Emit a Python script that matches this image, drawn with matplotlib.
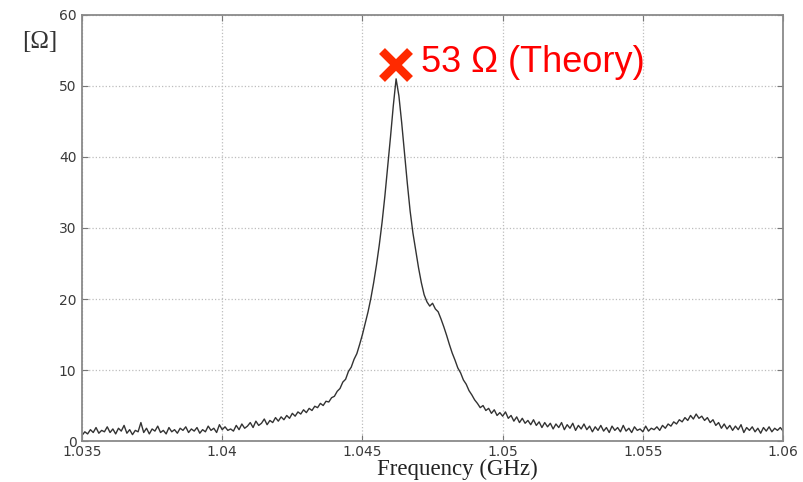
import numpy as np
import matplotlib
matplotlib.use("Agg")
import matplotlib.pyplot as plt

# sweep 1.0350 ... 1.0600 GHz, 0.0001 GHz step; impedance
F_START, F_STEP = 1.035, 0.0001
z_ohm = [
    0.8, 1.3, 1.0, 1.6, 1.2, 1.9, 1.1, 1.5, 1.3, 2.0,
    1.2, 1.7, 1.0, 1.8, 1.4, 2.2, 1.1, 1.6, 0.9, 1.5,
    1.3, 2.6, 1.2, 1.8, 1.0, 1.7, 1.4, 2.1, 1.2, 1.5,
    1.0, 1.9, 1.3, 1.6, 1.1, 1.8, 1.5, 2.0, 1.2, 1.7,
    1.4, 1.9, 1.1, 1.6, 1.3, 2.1, 1.5, 1.8, 1.2, 2.3,
    1.6, 2.0, 1.5, 1.7, 1.4, 2.2, 1.6, 2.4, 1.8, 2.1,
    2.6, 1.9, 2.8, 2.2, 2.5, 3.1, 2.3, 2.9, 2.6, 3.3,
    2.8, 3.4, 3.0, 3.6, 3.2, 3.9, 3.5, 4.1, 3.8, 4.4,
    4.0, 4.6, 4.3, 4.9, 4.7, 5.3, 5.0, 5.6, 5.5, 6.1,
    6.3, 7.0, 7.4, 8.3, 8.7, 9.8, 10.4, 11.5, 12.3, 13.6,
    15.0, 16.6, 18.2, 20.1, 22.3, 24.8, 27.6, 30.8, 34.5, 38.6,
    42.8, 47.2, 51.0, 48.6, 44.8, 40.5, 36.3, 32.4, 29.3, 26.8,
    24.4, 22.3, 20.6, 19.6, 19.0, 19.4, 18.6, 18.2, 17.2, 16.1,
    14.9, 13.6, 12.4, 11.4, 10.3, 9.6, 8.6, 8.0, 7.1, 6.5,
    5.8, 5.3, 4.7, 5.0, 4.3, 4.6, 3.9, 4.4, 3.6, 4.0,
    3.5, 4.1, 3.2, 3.6, 2.8, 3.4, 2.6, 3.2, 2.5, 2.9,
    2.3, 3.0, 2.2, 2.7, 1.9, 2.6, 2.0, 2.5, 1.7, 2.4,
    1.9, 2.6, 1.6, 2.3, 1.8, 2.5, 1.5, 2.2, 1.7, 2.4,
    1.6, 2.1, 1.3, 2.0, 1.5, 2.2, 1.4, 1.9, 1.2, 2.1,
    1.5, 1.9, 1.3, 2.2, 1.4, 1.8, 1.2, 2.0, 1.5, 1.7,
    1.3, 2.1, 1.4, 1.8, 1.6, 2.0, 1.5, 2.2, 1.8, 2.4,
    2.1, 2.7, 2.4, 3.0, 2.7, 3.3, 2.9, 3.6, 3.1, 3.8,
    3.2, 3.5, 2.9, 3.3, 2.6, 3.0, 2.2, 2.6, 1.8, 2.4,
    1.7, 2.2, 1.5, 2.1, 1.6, 2.3, 1.2, 1.9, 1.5, 2.0,
    1.3, 1.8, 1.1, 1.9, 1.4, 2.0, 1.3, 1.8, 1.5, 1.9,
    1.4,
]
freq = F_START + F_STEP * np.arange(len(z_ohm))

theory_f, theory_z = 1.0462, 53
theory_label = "53 \u03a9 (Theory)"
xticks = [1.035, 1.04, 1.045, 1.05, 1.055, 1.06]
xticklabels = ["1.035", "1.04", "1.045", "1.05", "1.055", "1.06"]
yticks = [0, 10, 20, 30, 40, 50, 60]

fig = plt.figure(figsize=(8.04, 4.82), dpi=100)
ax = fig.add_axes([0.102, 0.085, 0.872, 0.884])

ax.plot(freq, z_ohm, color="#333333", lw=1.0)
ax.plot([theory_f], [theory_z], "x", color="#ff2a00", ms=20, mew=6)
ax.text(1.0471, 53.3, theory_label, color="#ff0000", fontsize=26,
        family="Liberation Sans", ha="left", va="center")

ax.set_xlim(1.035, 1.06)
ax.set_ylim(0, 60)
ax.set_xticks(xticks)
ax.set_xticklabels(xticklabels)
ax.set_yticks(yticks)
ax.grid(True, ls=":", color="#bdbdbd", lw=0.9)
ax.tick_params(direction="in", length=4, color="#777777", labelsize=10,
               labelcolor="#3a3a3a", pad=4, top=True, right=True)
ax.tick_params(axis="x", pad=3)
for s in ax.spines.values():
    s.set_color("#8a8a8a"); s.set_linewidth(1.3)

fig.text(0.569, 0.027, "Frequency (GHz)", family="Liberation Serif",
         fontsize=16.5, ha="center", va="center", color="#222222")
fig.text(0.05, 0.913, "[\u03a9]", family="Liberation Serif",
         fontsize=18, ha="center", va="center", color="#333333")

fig.savefig("out.png", dpi=100)
